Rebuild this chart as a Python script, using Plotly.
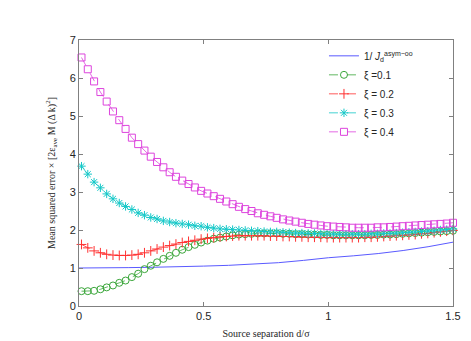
import numpy as np
import plotly.graph_objects as go

# x grid of the simulated points (60 samples) and the analytic curve grid
x_pts = np.linspace(0.01, 1.5, 60)
x_line = [0, 0.1, 0.2, 0.3, 0.4, 0.5, 0.6, 0.7, 0.8, 0.9, 1.0, 1.1, 1.2, 1.3, 1.4, 1.5]

y_inv_J = [1.00, 1.00, 1.01, 1.02, 1.03, 1.05, 1.07, 1.10, 1.14, 1.20, 1.27, 1.32, 1.38, 1.46, 1.56, 1.68]

y_xi01 = [0.39, 0.39, 0.40, 0.44, 0.49, 0.54, 0.61, 0.67, 0.76, 0.85, 0.97, 1.06, 1.15, 1.24, 1.32,
          1.40, 1.48, 1.55, 1.61, 1.67, 1.72, 1.77, 1.80, 1.83, 1.86, 1.88, 1.89, 1.90, 1.91, 1.91,
          1.91, 1.91, 1.90, 1.90, 1.89, 1.89, 1.88, 1.88, 1.87, 1.87, 1.86, 1.86, 1.86, 1.86, 1.86,
          1.86, 1.87, 1.87, 1.88, 1.88, 1.89, 1.90, 1.91, 1.92, 1.93, 1.94, 1.95, 1.96, 1.97, 1.98]

y_xi02 = [1.62, 1.53, 1.45, 1.40, 1.36, 1.34, 1.33, 1.33, 1.34, 1.36, 1.40, 1.45, 1.50, 1.55, 1.59,
          1.63, 1.67, 1.70, 1.73, 1.76, 1.78, 1.80, 1.82, 1.83, 1.84, 1.85, 1.85, 1.85, 1.85, 1.85,
          1.84, 1.84, 1.83, 1.83, 1.82, 1.82, 1.81, 1.81, 1.81, 1.80, 1.80, 1.80, 1.80, 1.80, 1.80,
          1.81, 1.81, 1.82, 1.83, 1.84, 1.85, 1.86, 1.87, 1.88, 1.90, 1.91, 1.93, 1.95, 1.97, 1.99]

y_xi03 = [3.68, 3.47, 3.26, 3.11, 2.95, 2.82, 2.71, 2.62, 2.54, 2.45, 2.39, 2.33, 2.29, 2.24, 2.21,
          2.18, 2.16, 2.14, 2.11, 2.10, 2.07, 2.05, 2.03, 2.02, 2.01, 2.00, 1.99, 1.98, 1.97, 1.96,
          1.95, 1.95, 1.94, 1.93, 1.92, 1.92, 1.91, 1.91, 1.90, 1.90, 1.89, 1.89, 1.89, 1.89, 1.89,
          1.89, 1.90, 1.90, 1.91, 1.91, 1.92, 1.93, 1.94, 1.95, 1.96, 1.97, 1.98, 2.00, 2.01, 2.03]

y_xi04 = [6.54, 6.23, 5.91, 5.63, 5.38, 5.12, 4.89, 4.66, 4.43, 4.26, 4.09, 3.93, 3.79, 3.65, 3.52,
          3.40, 3.30, 3.21, 3.12, 3.03, 2.96, 2.89, 2.82, 2.75, 2.68, 2.61, 2.55, 2.50, 2.44, 2.40,
          2.36, 2.32, 2.28, 2.25, 2.22, 2.19, 2.16, 2.14, 2.12, 2.10, 2.09, 2.08, 2.07, 2.06, 2.06,
          2.06, 2.06, 2.07, 2.07, 2.08, 2.09, 2.10, 2.11, 2.12, 2.13, 2.14, 2.15, 2.16, 2.17, 2.19]

names = ["\u03be =0.1", "\u03be = 0.2", "\u03be = 0.3", "\u03be = 0.4"]
series = [y_xi01, y_xi02, y_xi03, y_xi04]
colors = ["#3aa63a", "#ff3030", "#14c8c8", "#dd44dd"]
symbols = ["circle-open", "cross-thin-open", "asterisk-open", "square-open"]
sizes = [7, 7, 7, 7]

fig = go.Figure()
fig.add_trace(go.Scatter(
    x=x_line, y=y_inv_J, mode="lines",
    name="1/ <i>J</i><sub>d</sub><sup>asym\u2212oo</sup>",
    line=dict(color="#5a5aff", width=1),
))
for nm, ys, c, s, sz in zip(names, series, colors, symbols, sizes):
    fig.add_trace(go.Scatter(
        x=x_pts, y=ys, mode="lines+markers", name=nm,
        line=dict(color=c, width=0.8, dash="dash"),
        marker=dict(symbol=s, size=sz, color=c, line=dict(color=c, width=1)),
        cliponaxis=False,
    ))

axis_common = dict(
    showline=True, linecolor="#808080", linewidth=1, mirror="allticks",
    ticks="inside", ticklen=4, tickcolor="#808080", showgrid=False, zeroline=False,
    tickfont=dict(family="Liberation Sans, Arial", size=11, color="#262626"),
)

fig.update_layout(
    width=471, height=341,
    margin=dict(l=71, r=26, t=32, b=43),
    paper_bgcolor="white", plot_bgcolor="white",
    xaxis=dict(range=[0, 1.5], tickvals=[0, 0.5, 1, 1.5], ticktext=["0", "0.5", "1", "1.5"],
               title=dict(text="Source separation d/\u03c3", standoff=8,
                          font=dict(family="Liberation Serif, Times New Roman", size=10, color="#262626")),
               **axis_common),
    yaxis=dict(range=[0, 7], tickvals=[0, 1, 2, 3, 4, 5, 6, 7],
               title=dict(text="Mean squared error \u00d7 [2\u03b5<sub>ave</sub> M (\u0394 k)<sup>2</sup>]",
                          standoff=12,
                          font=dict(family="Liberation Serif, Times New Roman", size=10, color="#262626")),
               **axis_common),
    legend=dict(x=0.655, y=0.995, xanchor="left", yanchor="top", bgcolor="rgba(255,255,255,0)",
                borderwidth=0, font=dict(family="Liberation Sans, Arial", size=10, color="#262626"),
                itemwidth=30, tracegroupgap=0),
    showlegend=True,
)

fig.write_html("out.html")
